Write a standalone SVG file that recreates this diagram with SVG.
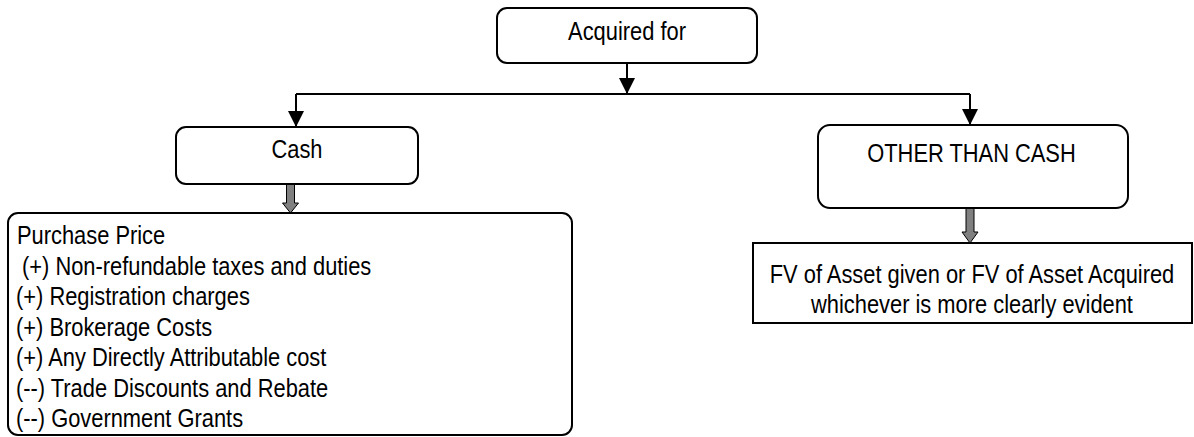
<svg xmlns="http://www.w3.org/2000/svg" width="1194" height="437" viewBox="0 0 1194 437">
  <style>
    .box { fill: #ffffff; stroke: #000000; stroke-width: 2; }
    .conn { fill: none; stroke: #000000; stroke-width: 2; }
    .block { fill: #808080; stroke: #000000; stroke-width: 1; }
    text { font-family: "Liberation Sans", Arial, sans-serif; font-size: 25px; fill: #000000; }
    .c { text-anchor: middle; }
  </style>
  <defs>
    <marker id="ah" viewBox="0 0 16 16" markerWidth="16" markerHeight="16" refX="15" refY="8" orient="auto" markerUnits="userSpaceOnUse">
      <path d="M0,0 L16,8 L0,16 z" fill="#000000"/>
    </marker>
  </defs>
  <rect width="1194" height="437" fill="#ffffff"/>

  <g id="connectors">
    <path class="conn" d="M627,63 V93" marker-end="url(#ah)"/>
    <path class="conn" d="M296,94 H970"/>
    <path class="conn" d="M296,94 V126" marker-end="url(#ah)"/>
    <path class="conn" d="M970,94 V124" marker-end="url(#ah)"/>
    <polygon class="block" points="286.5,184 294.5,184 294.5,203 298.5,203 290.5,213 282.5,203 286.5,203"/>
    <polygon class="block" points="966,208 974,208 974,232 978,232 970,243 962,232 966,232"/>
  </g>

  <g id="acquired-for">
    <rect class="box" x="497" y="8" width="260" height="55" rx="10"/>
    <text class="c" transform="translate(627,39.5) scale(0.875,1)">Acquired for</text>
  </g>

  <g id="cash">
    <rect class="box" x="176" y="127" width="242" height="57" rx="10"/>
    <text class="c" transform="translate(297,158) scale(0.875,1)">Cash</text>
  </g>

  <g id="other-than-cash">
    <rect class="box" x="818" y="125" width="310" height="83" rx="12"/>
    <text class="c" transform="translate(971.5,162) scale(0.875,1)">OTHER THAN CASH</text>
  </g>

  <g id="cash-cost">
    <rect class="box" x="8" y="213" width="564" height="222" rx="10"/>
    <text transform="translate(17,244) scale(0.875,1)">Purchase Price</text>
    <text transform="translate(22,274.5) scale(0.875,1)">(+) Non-refundable taxes and duties</text>
    <text transform="translate(16,305) scale(0.875,1)">(+) Registration charges</text>
    <text transform="translate(16,335.5) scale(0.875,1)">(+) Brokerage Costs</text>
    <text transform="translate(16,366) scale(0.875,1)">(+) Any Directly Attributable cost</text>
    <text transform="translate(16,396.5) scale(0.875,1)">(--) Trade Discounts and Rebate</text>
    <text transform="translate(16,427) scale(0.875,1)">(--) Government Grants</text>
  </g>

  <g id="fair-value">
    <rect class="box" x="753" y="243" width="439" height="80"/>
    <text class="c" transform="translate(972,283) scale(0.875,1)">FV of Asset given or FV of Asset Acquired</text>
    <text class="c" transform="translate(972,313) scale(0.875,1)">whichever is more clearly evident</text>
  </g>
</svg>
